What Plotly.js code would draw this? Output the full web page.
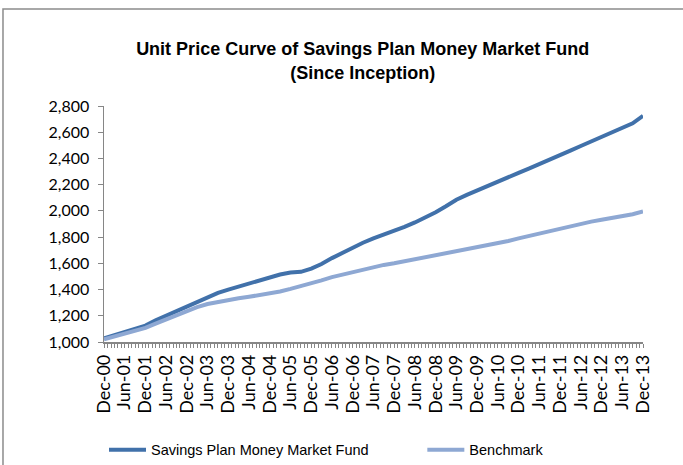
<!DOCTYPE html>
<html><head><meta charset="utf-8">
<script src="https://cdn.plot.ly/plotly-3.0.1.min.js"></script>
<style>html,body{margin:0;padding:0;background:#fff}#chart{width:683px;height:465px}</style>
</head><body><div id="chart"></div>
<script>
const quarterDates = [
  '2000-12-01','2001-03-01','2001-06-01','2001-09-01','2001-12-01','2002-03-01','2002-06-01','2002-09-01','2002-12-01',
  '2003-03-01','2003-06-01','2003-09-01','2003-12-01','2004-03-01','2004-06-01','2004-09-01','2004-12-01',
  '2005-03-01','2005-06-01','2005-09-01','2005-12-01','2006-03-01','2006-06-01','2006-09-01','2006-12-01',
  '2007-03-01','2007-06-01','2007-09-01','2007-12-01','2008-03-01','2008-06-01','2008-09-01','2008-12-01',
  '2009-03-01','2009-06-01','2009-09-01','2009-12-01','2010-03-01','2010-06-01','2010-09-01','2010-12-01',
  '2011-03-01','2011-06-01','2011-09-01','2011-12-01','2012-03-01','2012-06-01','2012-09-01','2012-12-01',
  '2013-03-01','2013-06-01','2013-09-01','2013-12-01'
];
const fundValues = [
  1028,1050,1075,1100,1125,1165,1200,1235,1270,
  1302,1340,1375,1400,1422,1445,1470,1495,
  1515,1530,1535,1560,1595,1640,1680,1717,
  1757,1790,1818,1847,1878,1912,1950,1990,
  2035,2085,2122,2157,2192,2225,2258,2290,
  2322,2355,2390,2425,2460,2495,2530,2565,
  2597,2627,2668,2725
];
const benchmarkValues = [
  1020,1040,1060,1080,1108,1140,1172,1203,1235,
  1266,1290,1307,1320,1333,1345,1356,1368,
  1385,1405,1425,1450,1470,1495,1515,1532,
  1550,1570,1588,1600,1615,1628,1645,1660,
  1675,1690,1705,1718,1735,1752,1770,1790,
  1808,1825,1845,1867,1885,1900,1918,1932,
  1945,1960,1975,1995
];
const tickLabels = ['Dec-00','Jun-01','Dec-01','Jun-02','Dec-02','Jun-03','Dec-03','Jun-04','Dec-04','Jun-05',
  'Dec-05','Jun-06','Dec-06','Jun-07','Dec-07','Jun-08','Dec-08','Jun-09','Dec-09','Jun-10','Dec-10','Jun-11',
  'Dec-11','Jun-12','Dec-12','Jun-13','Dec-13'];
const seriesNames = ['Savings Plan Money Market Fund','Benchmark'];

// monthly tick positions, label every 6th month
const tickVals = [], tickText = [];
for (let i = 0; i <= 156; i++) {
  const y = 2000 + Math.floor((11 + i) / 12), m = (11 + i) % 12 + 1;
  tickVals.push(y + '-' + String(m).padStart(2, '0') + '-01');
  tickText.push(i % 6 === 0 ? tickLabels[i / 6] : '');
}

const traces = [
  {x: quarterDates, y: fundValues, name: seriesNames[0], type: 'scatter', mode: 'lines',
   line: {color: '#4171AA', width: 4}, legend: 'legend'},
  {x: quarterDates, y: benchmarkValues, name: seriesNames[1], type: 'scatter', mode: 'lines',
   line: {color: '#8EA8D3', width: 4}, legend: 'legend2'}
];

const legendFont = {family: 'Liberation Sans, Arial, sans-serif', size: 14.5, color: '#000'};
const layout = {
  width: 683, height: 465,
  margin: {l: 104, r: 40, t: 106, b: 123, autoexpand: false},
  paper_bgcolor: '#fff', plot_bgcolor: '#fff',
  showlegend: true,
  title: {
    text: '<b>Unit Price Curve of Savings Plan Money Market Fund<br>(Since Inception)</b>',
    font: {family: 'Liberation Sans, Arial, sans-serif', size: 18, color: '#000'},
    x: 0.531, xanchor: 'center', xref: 'container',
    y: 0.881, yanchor: 'top', yref: 'container', automargin: false
  },
  xaxis: {
    type: 'date', range: ['2000-12-01', '2013-12-01'], automargin: false,
    tickmode: 'array', tickvals: tickVals, ticktext: tickText, tickangle: -90,
    ticks: 'outside', ticklen: 4, tickcolor: '#868686', tickwidth: 1,
    showline: true, linecolor: '#868686', linewidth: 1.5,
    showgrid: false, zeroline: false,
    tickfont: {family: 'Lato, sans-serif', size: 18, color: '#000'}
  },
  yaxis: {
    range: [1000, 2800], tickvals: [1000,1200,1400,1600,1800,2000,2200,2400,2600,2800],
    tickformat: ',d', ticks: 'outside', ticklen: 5, tickcolor: '#868686', automargin: false,
    showline: true, linecolor: '#868686', linewidth: 1.5, ticklabelstandoff: 5,
    showgrid: false, zeroline: false,
    tickfont: {family: 'Lato, sans-serif', size: 16, color: '#000'}
  },
  legend: {
    orientation: 'h', x: 0.0, xanchor: 'left', y: -0.389, yanchor: 'top',
    itemwidth: 37, font: legendFont, bgcolor: 'rgba(0,0,0,0)'
  },
  legend2: {
    orientation: 'h', x: 0.5906, xanchor: 'left', y: -0.389, yanchor: 'top',
    itemwidth: 37, font: legendFont, bgcolor: 'rgba(0,0,0,0)'
  },
  shapes: [{
    type: 'rect', xref: 'paper', yref: 'paper',
    x0: -0.1874, x1: 1.2, y0: -0.6, y1: 1.411,
    line: {color: '#8C8C8C', width: 1.5}, fillcolor: 'rgba(0,0,0,0)', layer: 'below'
  }]
};

Plotly.newPlot('chart', traces, layout, {displayModeBar: false, staticPlot: true});
</script>
</body></html>
